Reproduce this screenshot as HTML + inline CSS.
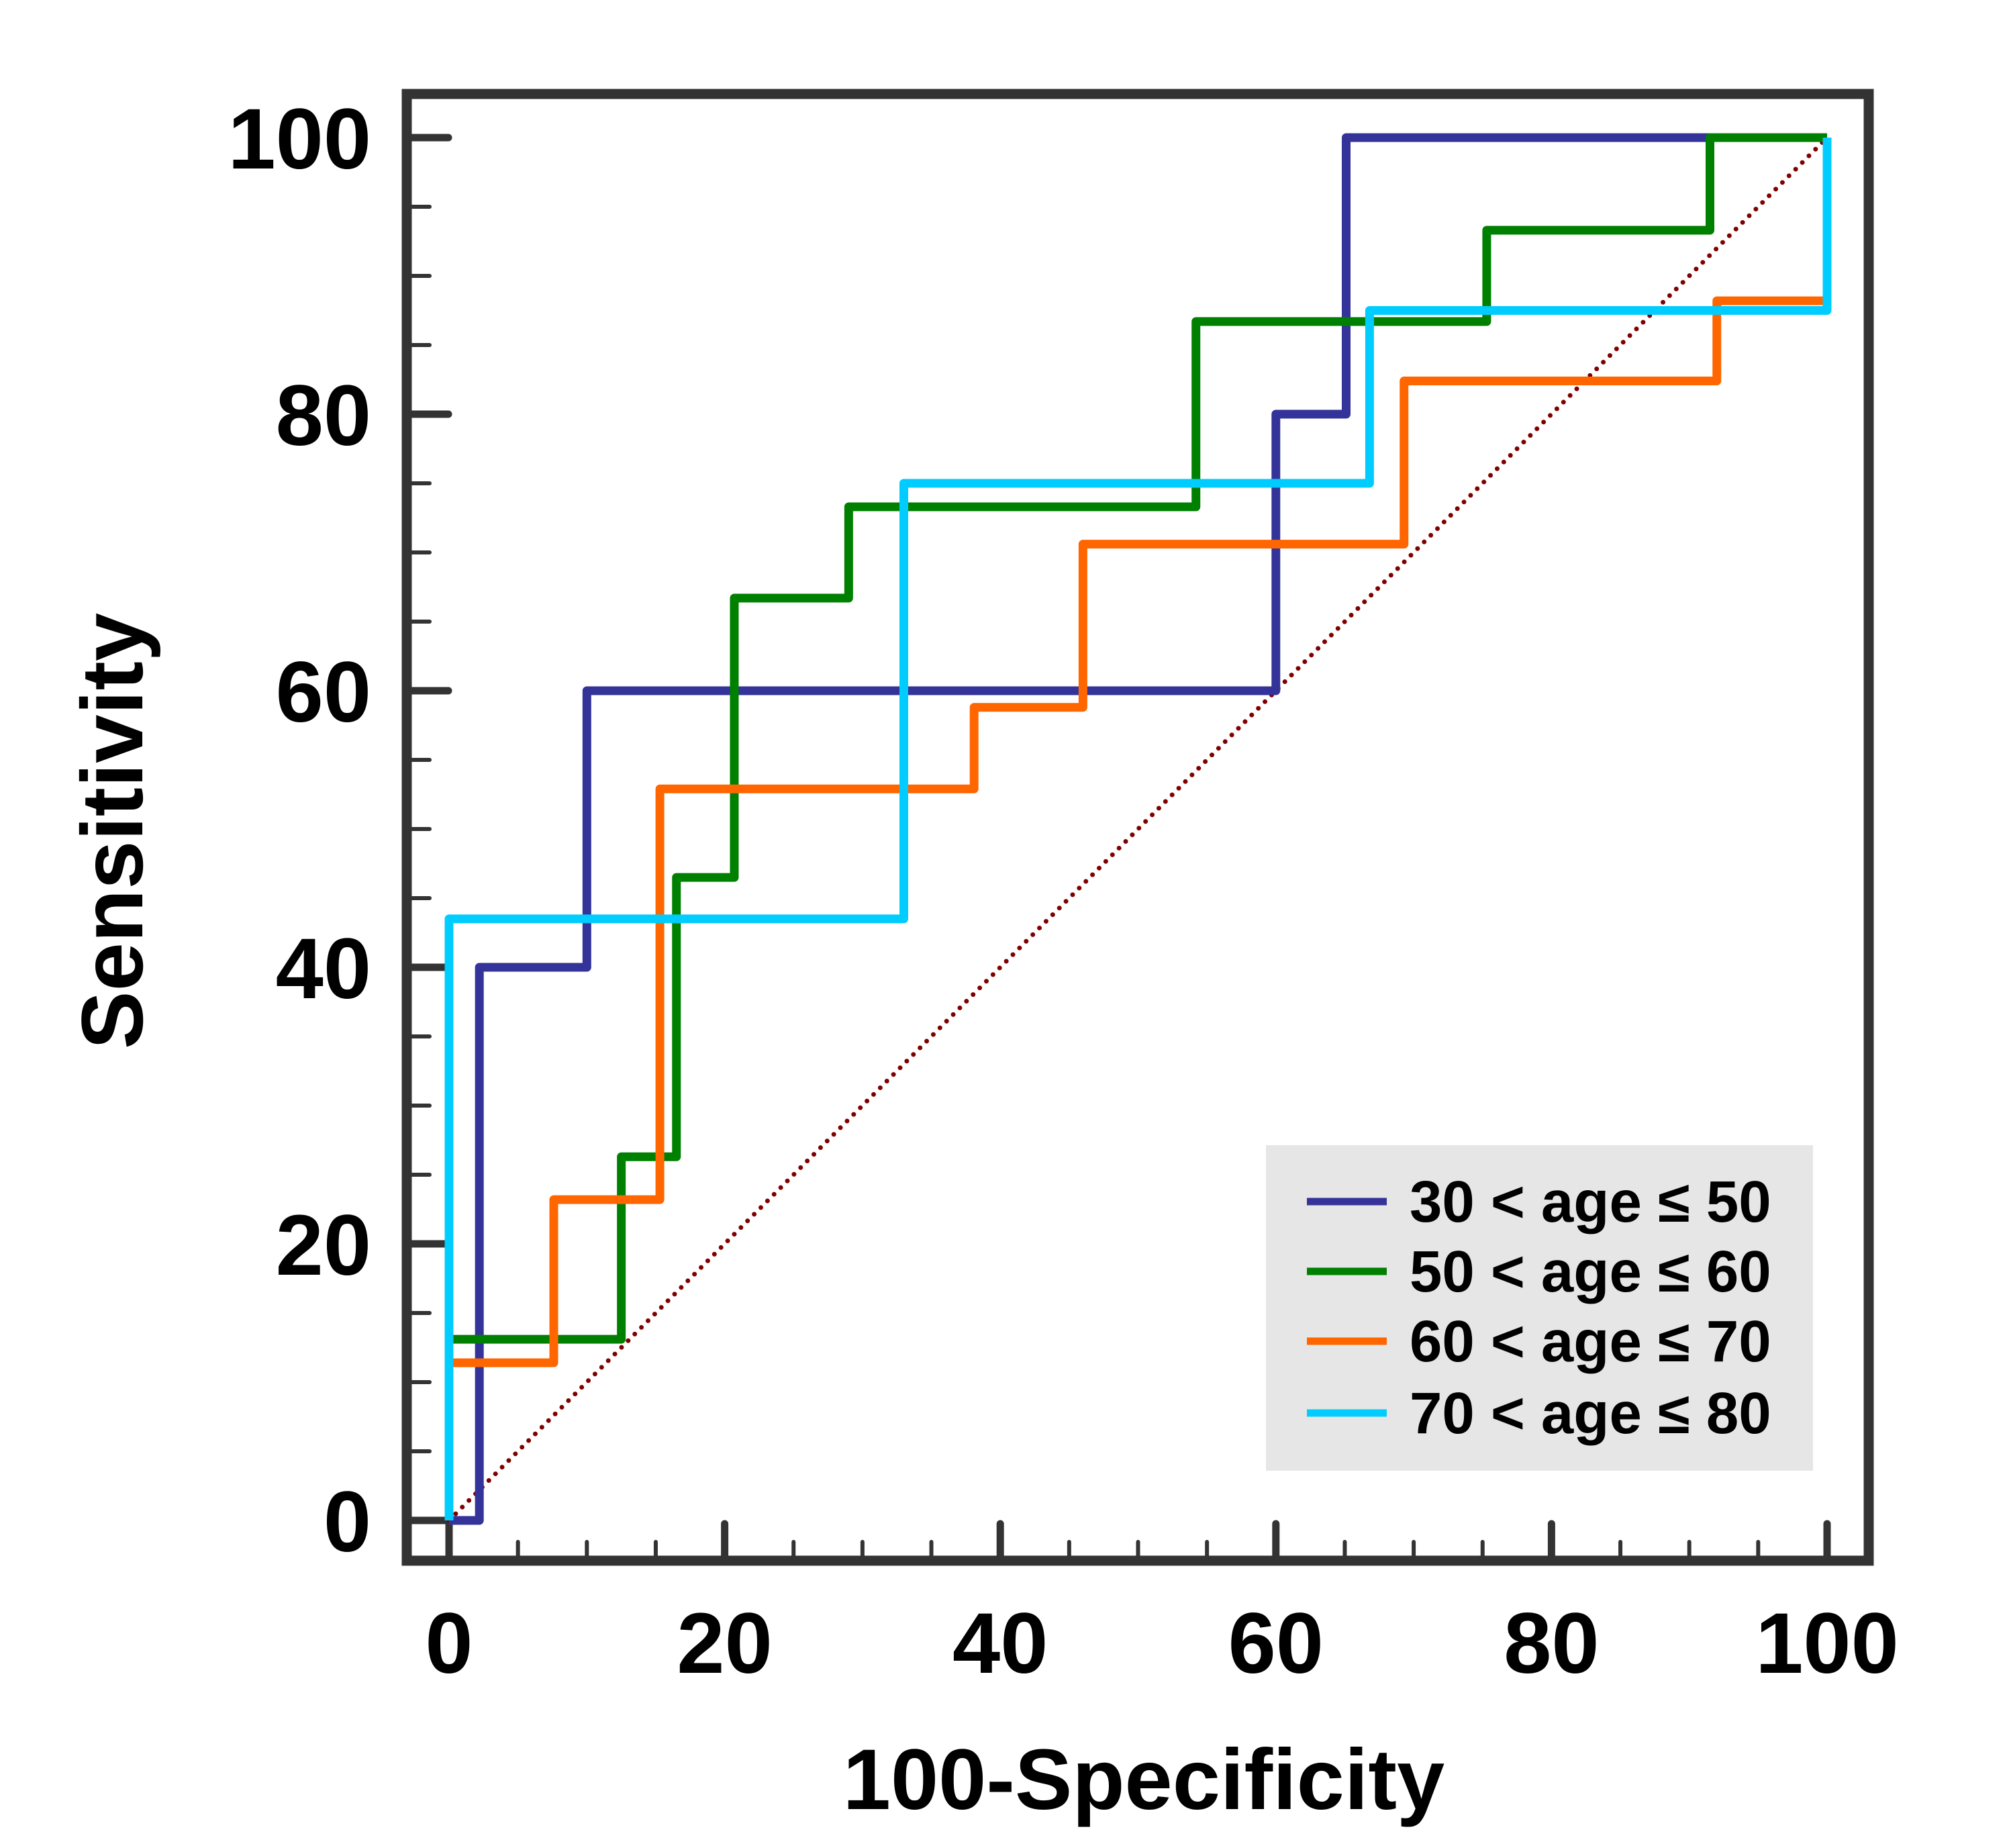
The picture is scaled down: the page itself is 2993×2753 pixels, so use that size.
<!DOCTYPE html>
<html><head><meta charset="utf-8"><style>body{margin:0;background:#fff}svg{display:block}</style></head>
<body>
<svg id="chart" width="2993" height="2753" viewBox="0 0 2993 2753" xmlns="http://www.w3.org/2000/svg" font-family="'Liberation Sans', sans-serif" font-weight="bold">
<rect x="0" y="0" width="2993" height="2753" fill="#fff"/>
<g id="plot"></g>
</svg>
<script>
const xTicks = [0, 20, 40, 60, 80, 100];
const yTicks = [0, 20, 40, 60, 80, 100];
const seriesNames = ["30 < age ≤ 50", "50 < age ≤ 60", "60 < age ≤ 70", "70 < age ≤ 80"];
const seriesColors = ["#333399", "#008000", "#ff6600", "#00ccff"];
const blueX = [0, 2.2, 2.2, 10, 10, 60, 60, 65.1, 65.1, 100];
const blueY = [0, 0, 40, 40, 60, 60, 80, 80, 100, 100];
const greenX = [0, 12.5, 12.5, 16.5, 16.5, 20.7, 20.7, 29, 29, 54.2, 54.2, 75.3, 75.3, 91.5, 91.5, 100];
const greenY = [13.1, 13.1, 26.3, 26.3, 46.5, 46.5, 66.7, 66.7, 73.3, 73.3, 86.7, 86.7, 93.3, 93.3, 100, 100];
const orangeX = [0, 7.6, 7.6, 15.3, 15.3, 38.1, 38.1, 46, 46, 69.3, 69.3, 92, 92, 100];
const orangeY = [11.4, 11.4, 23.2, 23.2, 52.9, 52.9, 58.8, 58.8, 70.6, 70.6, 82.4, 82.4, 88.2, 88.2];
const cyanX = [0, 0, 33, 33, 66.8, 66.8, 100, 100];
const cyanY = [0, 43.5, 43.5, 75, 75, 87.5, 87.5, 100];

const NS = "http://www.w3.org/2000/svg";
const g = document.getElementById("plot");
const X0 = 669, X1 = 2722, Y0 = 2265, Y1 = 205;
const sx = v => X0 + (X1 - X0) * v / 100;
const sy = v => Y0 + (Y1 - Y0) * v / 100;
function mk(tag, attrs) { const e = document.createElementNS(NS, tag); for (const k in attrs) e.setAttribute(k, attrs[k]); g.appendChild(e); return e; }

const frame = mk("rect", {x: 606, y: 140, width: 2178, height: 2185, fill: "none", stroke: "#333", "stroke-width": 15});



for (let v = 0; v <= 100; v += 5) {
  const major = v % 20 === 0;
  const ty = mk("line", {x1: 606, x2: major ? 668 : 640, y1: sy(v), y2: sy(v), stroke: "#333", "stroke-width": major ? 11 : 6, "stroke-linecap": "round"});
  
  
  const tx = mk("line", {x1: sx(v), x2: sx(v), y1: 2325, y2: major ? 2270 : 2297, stroke: "#333", "stroke-width": major ? 11 : 6, "stroke-linecap": "round"});
  
  
}
yTicks.forEach(v => {
  const t = mk("text", {x: 553, y: sy(v) + 46, "text-anchor": "end", "font-size": 128});
  t.textContent = v;
  
  
});
xTicks.forEach(v => {
  const t = mk("text", {x: sx(v), y: 2492, "text-anchor": "middle", "font-size": 128});
  t.textContent = v;
  
  
});
const xt = mk("text", {x: 1704, y: 2695, "text-anchor": "middle", "font-size": 128});
xt.textContent = "100-Specificity";


const yt = mk("text", {x: 0, y: 0, "text-anchor": "middle", "font-size": 130, transform: "translate(212,1238) rotate(-90)"});
yt.textContent = "Sensitivity";



const diag = mk("line", {x1: sx(0), y1: sy(0), x2: sx(100), y2: sy(100), stroke: "#800000", "stroke-width": 7, "stroke-dasharray": "0 14", "stroke-linecap": "round"});



const series = [[blueX, blueY], [greenX, greenY], [orangeX, orangeY], [cyanX, cyanY]];
const sNames = ["roc-curve-30-50", "roc-curve-50-60", "roc-curve-60-70", "roc-curve-70-80"];
series.forEach((s, i) => {
  const pts = s[0].map((x, j) => sx(x) + "," + sy(s[1][j])).join(" ");
  const p = mk("polyline", {points: pts, fill: "none", stroke: seriesColors[i], "stroke-width": 13, "stroke-linejoin": "round"});
  
  
});

const lb = mk("rect", {x: 1886, y: 1706, width: 815, height: 485, fill: "#e6e6e6"});


const ly = [1790, 1894, 1998, 2105];
seriesNames.forEach((n, i) => {
  const l = mk("line", {x1: 1947, x2: 2066, y1: ly[i], y2: ly[i], stroke: seriesColors[i], "stroke-width": 11});
  
  
  const t = mk("text", {x: 2100, y: ly[i] + 30, "font-size": 87});
  t.textContent = n;
  
  
});
</script>
</body></html>
